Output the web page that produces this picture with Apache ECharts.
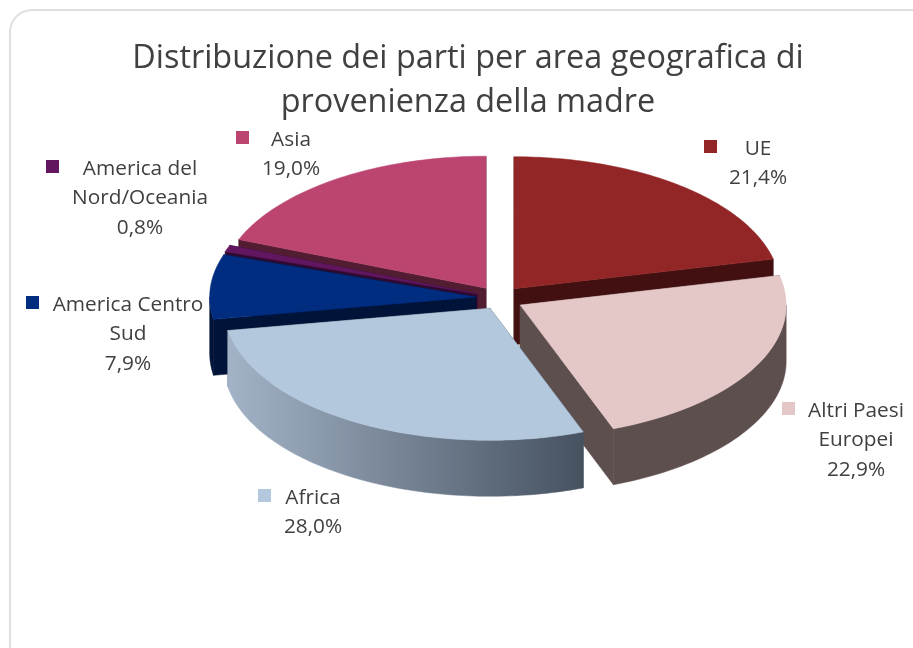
<!DOCTYPE html>
<html lang="it">
<head>
    <meta charset="UTF-8">
    <title>Distribuzione dei parti</title>
    <script src="https://cdn.jsdelivr.net/npm/echarts@6/dist/echarts.min.js"></script>
    <style>
        html, body { margin: 0; padding: 0; background: #fff; }
        #chart { width: 913px; height: 648px; }
    </style>
</head>
<body>
<div id="chart"></div>
<script>
    // dati, in senso orario a partire dalle ore 12
    const categories = ["UE", "Altri Paesi\nEuropei", "Africa", "America Centro\nSud", "America del\nNord/Oceania", "Asia"];
    const values = [21.4, 22.9, 28.0, 7.9, 0.8, 19.0];

    // colori: faccia superiore e pareti
    const topColors = ["#922525", "#e4c7c7", "#b3c7dd", "#002d80", "#631660", "#bb4570"];
    const wallColors = ["#421010", "#5e4f4f", "#a3b3c7", "#001338", "#2e0a30", "#521c32"];
    const africaWallEnd = "#465260";

    // ordine di disegno, dal fondo verso chi guarda
    const drawOrder = [5, 4, 3, 0, 1, 2];

    // posizione delle etichette: quadratino e centro del testo
    const labelLayout = [
        { keyX: 704, keyY: 140, textX: 758, textY: 133 },
        { keyX: 782, keyY: 402, textX: 856, textY: 395 },
        { keyX: 258, keyY: 489, textX: 313, textY: 482 },
        { keyX: 26, keyY: 296, textX: 128, textY: 289 },
        { keyX: 46, keyY: 160, textX: 140, textY: 153 },
        { keyX: 236, keyY: 131, textX: 291, textY: 124 }
    ];

    // geometria della torta 3D
    const cx = 499.3, cy = 298, rx = 266, ry = 132;
    const depth = 56, explode = 23.7;
    // piccola correzione della posizione di ogni fetta
    const sliceNudge = [[0, 0], [0, 1.5], [2.5, 0], [0, 0], [0, 0], [0, 0]];

    const total = values.reduce((a, b) => a + b, 0);
    const angles = [];
    let cumulated = 0;
    values.forEach(v => {
        const start = cumulated / total * Math.PI * 2;
        cumulated += v;
        angles.push([start, cumulated / total * Math.PI * 2]);
    });

    function arcPoints(ax, ay, from, to, dy) {
        const pts = [];
        const steps = Math.max(2, Math.ceil((to - from) / 0.02));
        for (let i = 0; i <= steps; i++) {
            const t = from + (to - from) * i / steps;
            pts.push([ax + rx * Math.sin(t), ay - ry * Math.cos(t) + dy]);
        }
        return pts;
    }

    function poly(points, fill) {
        return { type: "polygon", shape: { points: points }, style: { fill: fill, stroke: fill, lineWidth: 0.5 } };
    }

    function renderSlice(params, api) {
        const i = api.value(0);
        const [a0, a1] = angles[i];
        const mid = (a0 + a1) / 2;
        const ax = cx + explode * Math.sin(mid) + sliceNudge[i][0];
        const ay = cy - explode * 0.5 * Math.cos(mid) + sliceNudge[i][1];
        const wall = wallColors[i];
        const children = [];

        // pareti radiali
        [a0, a1].forEach(a => {
            const ex = ax + rx * Math.sin(a), ey = ay - ry * Math.cos(a);
            children.push(poly([[ax, ay], [ex, ey], [ex, ey + depth], [ax, ay + depth]], i === 2 ? africaWallEnd : wall));
        });

        // parete esterna, solo la parte rivolta verso chi guarda
        const from = Math.max(a0, Math.PI / 2), to = Math.min(a1, Math.PI * 1.5);
        if (to > from) {
            const upper = arcPoints(ax, ay, from, to, 0);
            const lower = arcPoints(ax, ay, from, to, depth).reverse();
            let fill = wall;
            if (i === 2) {
                fill = new echarts.graphic.LinearGradient(0, 0, 1, 0, [
                    { offset: 0, color: wall },
                    { offset: 1, color: africaWallEnd }
                ]);
            }
            children.push(poly(upper.concat(lower), fill));
        }

        // faccia superiore
        children.push(poly([[ax, ay]].concat(arcPoints(ax, ay, a0, a1, 0)), topColors[i]));

        // etichetta
        const lab = labelLayout[i];
        children.push({
            type: "rect",
            shape: { x: lab.keyX, y: lab.keyY, width: 13, height: 13 },
            style: { fill: topColors[i] }
        });
        children.push({
            type: "text",
            style: {
                text: categories[i] + "\n" + values[i].toFixed(1).replace(".", ",") + "%",
                x: lab.textX,
                y: lab.textY + 1,
                align: "center",
                verticalAlign: "top",
                fill: "#404040",
                font: '20.8px "Open Sans"',
                lineHeight: 29.5
            }
        });
        return { type: "group", children: children };
    }

    const myChart = echarts.init(document.getElementById("chart"));
    const option = {
        animation: false,
        backgroundColor: "#fff",
        title: {
            text: "Distribuzione dei parti per area geografica di\nprovenienza della madre",
            left: 463,
            top: 32,
            textAlign: "center",
            textStyle: {
                fontFamily: "Open Sans",
                fontWeight: "normal",
                fontSize: 32.4,
                lineHeight: 44,
                color: "#404040"
            }
        },
        graphic: [{
            type: "rect",
            z: -1,
            shape: { x: 10, y: 10, width: 1100, height: 1100, r: 22 },
            style: { fill: "#fff", stroke: "#e0e0e0", lineWidth: 2 }
        }],
        series: [{
            type: "custom",
            coordinateSystem: "none",
            renderItem: renderSlice,
            data: drawOrder.map(i => [i, values[i]])
        }]
    };
    myChart.setOption(option);
</script>
</body>
</html>
